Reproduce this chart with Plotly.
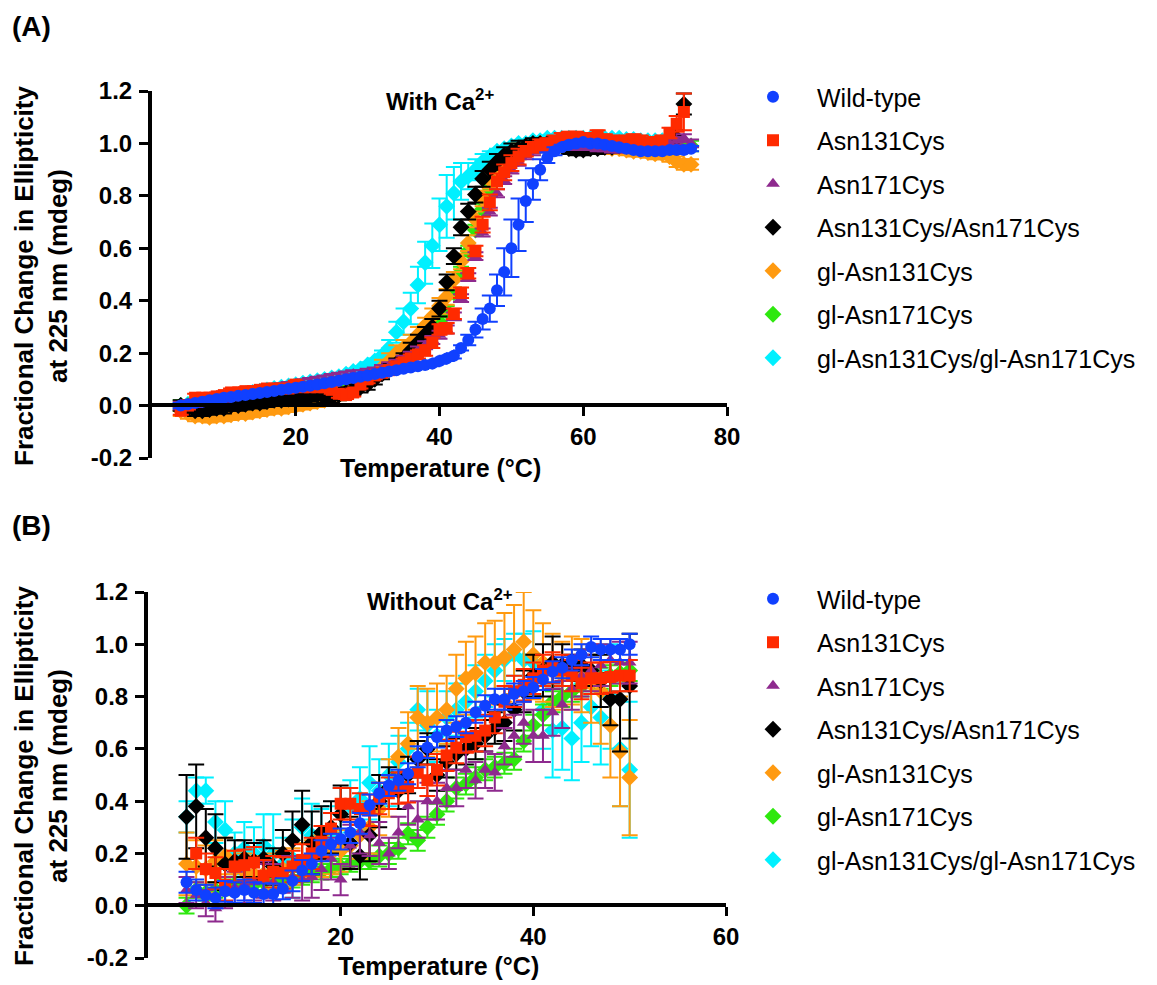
import plotly.graph_objects as go

# Temperaturen (°C)
temp_a = list(range(4, 76))
temp_b = list(range(4, 51))

names = ['Wild-type', 'Asn131Cys', 'Asn171Cys', 'Asn131Cys/Asn171Cys',
         'gl-Asn131Cys', 'gl-Asn171Cys', 'gl-Asn131Cys/gl-Asn171Cys']
colors = ['#1040FF', '#FF2A00', '#8E2A8E', '#000000', '#FF9A10', '#2EE80E', '#00F0FF']
symbols = ['circle', 'square', 'triangle-up', 'diamond', 'diamond', 'diamond', 'diamond']

# (A) mit Ca2+
wt_a = [0.00, 0.005, 0.01, 0.015, 0.02, 0.025, 0.03, 0.033, 0.037, 0.04,
        0.044, 0.048, 0.052, 0.056, 0.06, 0.064, 0.068, 0.072, 0.076, 0.08,
        0.085, 0.09, 0.095, 0.1, 0.105, 0.11, 0.115, 0.12, 0.125, 0.13,
        0.135, 0.14, 0.145, 0.15, 0.155, 0.16, 0.17, 0.18, 0.19, 0.22,
        0.25, 0.29, 0.33, 0.37, 0.44, 0.51, 0.6, 0.69, 0.78, 0.845,
        0.9, 0.945, 0.97, 0.985, 0.995, 1.0, 1.005, 1.0, 1.0, 0.995,
        0.99, 0.985, 0.98, 0.975, 0.97, 0.97, 0.97, 0.97, 0.975, 0.975,
        0.975, 0.98]
wt_a_err = [0.01] * 40 + [0.02, 0.03, 0.04, 0.05, 0.06, 0.09, 0.11, 0.1, 0.08, 0.06,
            0.04, 0.02, 0.015] + [0.01] * 19
n131_a = [-0.02, 0.0, 0.03, 0.03, 0.03, 0.035, 0.04, 0.05, 0.05, 0.055,
          0.055, 0.06, 0.065, 0.065, 0.065, 0.065, 0.08, 0.07, 0.07, 0.07,
          0.07, 0.06, 0.045, 0.04, 0.05, 0.08, 0.1, 0.115, 0.125, 0.135,
          0.15, 0.165, 0.18, 0.195, 0.21, 0.24, 0.29, 0.295, 0.35, 0.43,
          0.505, 0.59, 0.69, 0.775, 0.855, 0.89, 0.925, 0.95, 0.97, 0.985,
          0.995, 1.0, 1.01, 1.02, 1.025, 1.025, 1.02, 1.02, 1.03, 1.015,
          1.01, 1.005, 1.01, 1.015, 1.01, 1.0, 1.005, 1.01, 1.04, 1.075,
          1.12, None]
n131_a_err = [0.015] * 34 + [0.02] * 8 + [0.03] * 6 + [0.02] * 21 + [0.03, 0.07, 0.0]
n171_a = [0.0, 0.005, 0.01, 0.015, 0.02, 0.025, 0.03, 0.035, 0.04, 0.045,
          0.05, 0.055, 0.06, 0.065, 0.07, 0.075, 0.08, 0.085, 0.09, 0.095,
          0.1, 0.105, 0.11, 0.115, 0.12, 0.12, 0.125, 0.13, 0.14, 0.15,
          0.16, 0.175, 0.19, 0.21, 0.23, 0.25, 0.27, 0.29, 0.34, 0.41,
          0.49, 0.57, 0.66, 0.74, 0.81, 0.86, 0.9, 0.93, 0.955, 0.97,
          0.98, 0.985, 0.99, 0.995, 0.995, 0.99, 0.99, 0.99, 0.985, 0.985,
          0.98, 0.98, 0.98, 0.98, 0.98, 0.98, 0.985, 0.99, 1.0, 1.01,
          1.02, 1.0]
n171_a_err = [0.015] * 72
dbl_a = [0.0, -0.01, -0.02, -0.02, -0.015, -0.01, -0.01, 0.0, 0.0, 0.005,
         0.01, 0.01, 0.015, 0.02, 0.02, 0.025, 0.03, 0.03, 0.035, 0.04,
         0.03, 0.03, 0.04, 0.05, 0.06, 0.07, 0.08, 0.1, 0.12, 0.14,
         0.16, 0.18, 0.21, 0.24, 0.27, 0.3, 0.37, 0.47, 0.57, 0.68,
         0.74, 0.805, 0.865, 0.9, 0.93, 0.955, 0.97, 0.98, 0.99, 1.0,
         1.0, 1.0, 1.0, 0.99, 0.98, 0.975, 0.975, 0.98, 0.98, 0.985,
         0.985, 0.99, 0.99, 0.99, 0.99, 0.99, 0.99, 0.99, 1.0, 1.02,
         1.15, None]
dbl_a_err = [0.02] * 32 + [0.03] * 16 + [0.02] * 20 + [0.02, 0.03, 0.04, 0.0]
gl131_a = [-0.02, -0.03, -0.04, -0.04, -0.045, -0.04, -0.04, -0.035, -0.03, -0.03,
           -0.025, -0.02, -0.015, -0.01, -0.01, -0.005, 0.0, 0.005, 0.01, 0.015,
           0.02, 0.03, 0.04, 0.05, 0.065, 0.08, 0.1, 0.12, 0.145, 0.17,
           0.2, 0.22, 0.24, 0.27, 0.305, 0.34, 0.38, 0.415, 0.48, 0.55,
           0.62, 0.71, 0.79, 0.86, 0.9, 0.93, 0.95, 0.97, 0.98, 0.99,
           1.0, 1.0, 1.0, 1.0, 1.0, 1.0, 0.995, 0.99, 0.99, 0.985,
           0.98, 0.98, 0.975, 0.97, 0.97, 0.965, 0.96, 0.96, 0.95, 0.93,
           0.92, 0.92]
gl131_a_err = [0.02] * 28 + [0.03] * 20 + [0.02] * 24
gl171_a = [0.0, 0.0, 0.005, 0.01, 0.01, 0.015, 0.02, 0.02, 0.025, 0.03,
           0.03, 0.035, 0.04, 0.04, 0.045, 0.05, 0.05, 0.055, 0.06, 0.065,
           0.07, 0.075, 0.08, 0.085, 0.09, 0.1, 0.11, 0.12, 0.135, 0.15,
           0.165, 0.18, 0.2, 0.22, 0.25, 0.28, 0.32, 0.36, 0.43, 0.51,
           0.59, 0.67, 0.75, 0.82, 0.875, 0.915, 0.94, 0.96, 0.975, 0.985,
           0.99, 0.995, 1.0, 1.0, 1.0, 1.0, 1.0, 0.995, 0.995, 0.99,
           0.99, 0.99, 0.99, 0.985, 0.985, 0.985, 0.985, 0.985, 0.99, 0.99,
           0.99, 0.99]
gl171_a_err = [0.02] * 72
glb_a = [0.0, 0.005, 0.01, 0.015, 0.02, 0.025, 0.03, 0.035, 0.04, 0.045,
         0.05, 0.055, 0.06, 0.065, 0.07, 0.075, 0.08, 0.085, 0.09, 0.095,
         0.1, 0.105, 0.11, 0.12, 0.13, 0.14, 0.155, 0.17, 0.19, 0.22,
         0.28, 0.32, 0.37, 0.46, 0.545, 0.61, 0.69, 0.76, 0.81, 0.855,
         0.875, 0.9, 0.93, 0.95, 0.97, 0.98, 0.99, 1.0, 1.0, 1.01,
         1.01, 1.02, 1.02, 1.02, 1.02, 1.02, 1.02, 1.02, 1.02, 1.02,
         1.02, 1.02, 1.015, 1.015, 1.01, 1.01, 1.01, 1.01, 1.01, 1.01,
         1.0, None]
glb_a_err = [0.01] * 28 + [0.02, 0.03, 0.04, 0.05, 0.06, 0.07, 0.08, 0.085, 0.1, 0.12,
             0.1, 0.07, 0.05, 0.04, 0.03, 0.02] + [0.01] * 28

# (B) ohne Ca2+
wt_b = [0.09, 0.06, 0.04, 0.03, 0.055, 0.05, 0.06, 0.05, 0.045, 0.045,
        0.065, 0.095, 0.135, 0.16, 0.21, 0.235, 0.255, 0.28, 0.315, 0.385,
        0.43, 0.46, 0.48, 0.505, 0.57, 0.605, 0.645, 0.67, 0.685, 0.7,
        0.74, 0.765, 0.79, 0.79, 0.81, 0.82, 0.835, 0.865, 0.895, 0.91,
        0.94, 0.96, 0.99, 0.98, 0.98, 0.98, 1.0]
wt_b_err = [0.04] * 47
n131_b = [None, 0.2, 0.14, 0.125, 0.08, 0.15, 0.155, 0.165, 0.115, 0.13,
          0.125, 0.15, 0.175, 0.2, 0.245, 0.295, 0.39, 0.39, 0.37, 0.365,
          0.41, 0.43, 0.45, 0.455, 0.51, 0.48, 0.52, 0.575, 0.605, 0.645,
          0.65, 0.67, 0.72, 0.78, 0.82, 0.845, 0.87, 0.9, 0.91, 0.9,
          0.88, 0.85, 0.87, 0.87, 0.875, 0.88, 0.88]
n131_b_err = [0.06] * 47
n171_b = [0.06, 0.04, 0.01, -0.01, 0.05, 0.07, 0.08, 0.09, 0.1, 0.09,
          0.12, 0.11, 0.1, 0.11, 0.14, 0.18, 0.1, 0.23, 0.28, 0.27,
          0.24, 0.2, 0.28, 0.38, 0.33, 0.4, 0.4, 0.45, 0.45, 0.52,
          0.48, 0.52, 0.51, 0.61, 0.65, 0.7, 0.65, 0.65, 0.74, 0.77,
          0.83, 0.88, 0.9, 0.92, 0.94, 0.93, 0.93]
n171_b_err = [0.05, 0.05, 0.05, 0.05, 0.06, 0.06, 0.07, 0.07, 0.07, 0.07,
              0.07, 0.08, 0.08, 0.08, 0.08, 0.08, 0.06, 0.08, 0.08, 0.08,
              0.08, 0.06, 0.06, 0.07, 0.07, 0.07, 0.07, 0.07, 0.07, 0.07,
              0.07, 0.07, 0.07, 0.07, 0.08, 0.08, 0.1, 0.1, 0.09, 0.09,
              0.08, 0.08, 0.08, 0.08, 0.08, 0.08, 0.08]
dbl_b = [0.34, 0.38, 0.26, 0.22, 0.16, 0.17, 0.18, 0.17, 0.18, 0.15,
         0.2, 0.25, 0.31, 0.24, 0.28, 0.3, 0.35, 0.24, 0.19, 0.27,
         0.4, 0.45, 0.44, 0.5, 0.56, 0.6, 0.5, 0.55, 0.58, 0.6,
         0.62, 0.65, 0.68, 0.7, 0.75, 0.82, 0.88, 0.9, 0.93, 0.92,
         0.9, 0.92, 0.9, 0.86, 0.79, 0.79, 0.84]
dbl_b_err = [0.16, 0.16, 0.11, 0.13, 0.1, 0.08, 0.07, 0.07, 0.07, 0.07,
             0.09, 0.11, 0.13, 0.12, 0.1, 0.1, 0.11, 0.1, 0.09, 0.1,
             0.1, 0.08, 0.07, 0.07, 0.07, 0.06, 0.06, 0.06, 0.06, 0.06,
             0.06, 0.06, 0.06, 0.07, 0.08, 0.08, 0.08, 0.1, 0.1, 0.08,
             0.06, 0.06, 0.06, 0.1, 0.1, 0.2, 0.2]
gl131_b = [0.16, 0.15, 0.14, 0.17, 0.19, 0.14, 0.13, 0.12, 0.12, 0.13,
           0.14, 0.15, 0.17, 0.18, 0.19, 0.2, 0.21, 0.23, 0.27, 0.3,
           0.37, 0.45, 0.57, 0.62, 0.72, 0.7, 0.72, 0.75, 0.83, 0.87,
           0.89, 0.93, 0.93, 0.95, 0.98, 1.01, 0.96, 0.93, 0.9, 0.88,
           0.9, 0.88, 0.85, 0.82, 0.69, 0.59, 0.49]
gl131_b_err = [0.12, 0.1, 0.09, 0.08, 0.07, 0.07, 0.07, 0.07, 0.07, 0.07,
               0.07, 0.07, 0.07, 0.07, 0.08, 0.08, 0.08, 0.09, 0.09, 0.1,
               0.1, 0.11, 0.11, 0.12, 0.12, 0.13, 0.13, 0.13, 0.13, 0.14,
               0.14, 0.15, 0.16, 0.17, 0.17, 0.19, 0.17, 0.15, 0.14, 0.13,
               0.13, 0.14, 0.15, 0.2, 0.2, 0.21, 0.22]
gl171_b = [0.0, 0.06, 0.05, 0.06, 0.07, 0.08, 0.08, 0.08, 0.09, 0.1,
           0.1, 0.1, 0.11, 0.12, 0.13, 0.14, 0.15, 0.16, 0.17, 0.17,
           0.19, 0.2, 0.22, 0.275, 0.25, 0.3, 0.35, 0.4, 0.45, 0.465,
           0.49, 0.52, 0.53, 0.545, 0.56, 0.63, 0.69, 0.73, 0.78, 0.8,
           0.82, 0.84, 0.86, 0.87, 0.88, 0.89, 0.9]
gl171_b_err = [0.03] * 20 + [0.04] * 27
glb_b = [0.34, 0.44, 0.44, 0.32, 0.29, 0.2, 0.22, 0.2, 0.23, 0.2,
         0.16, 0.18, 0.3, 0.27, 0.25, 0.28, 0.35, 0.38, 0.41, 0.47,
         0.44, 0.5, 0.55, 0.6, 0.75, 0.69, 0.65, 0.72, 0.75, 0.78,
         0.82, 0.86, 0.9, 0.94, 0.96, 0.94, 0.93, 0.75, 0.67, 0.68,
         0.64, 0.7, 0.76, 0.72, 0.8, 0.6, 0.52]
glb_b_err = [0.06, 0.05, 0.05, 0.08, 0.11, 0.08, 0.1, 0.1, 0.12, 0.15,
             0.1, 0.15, 0.11, 0.12, 0.12, 0.1, 0.1, 0.1, 0.12, 0.14,
             0.12, 0.12, 0.1, 0.1, 0.08, 0.13, 0.1, 0.1, 0.1, 0.1,
             0.1, 0.1, 0.1, 0.08, 0.08, 0.1, 0.12, 0.15, 0.18, 0.16,
             0.16, 0.15, 0.15, 0.18, 0.2, 0.22, 0.26]

panel_a = [(wt_a, wt_a_err), (n131_a, n131_a_err), (n171_a, n171_a_err), (dbl_a, dbl_a_err),
           (gl131_a, gl131_a_err), (gl171_a, gl171_a_err), (glb_a, glb_a_err)]
panel_b = [(wt_b, wt_b_err), (n131_b, n131_b_err), (n171_b, n171_b_err), (dbl_b, dbl_b_err),
           (gl131_b, gl131_b_err), (gl171_b, gl171_b_err), (glb_b, glb_b_err)]

# die Seite hat 8 px Rand, daher etwas kleiner
OFF = 8
W, H = 1157 - OFF, 985 - OFF
FONT = 'Arial, Liberation Sans, sans-serif'

fig = go.Figure()

# in umgekehrter Reihenfolge zeichnen, damit Wild-type oben liegt
for temps, panel, xa, ya, leg in [(temp_a, panel_a, 'x', 'y', 'legend'),
                                  (temp_b, panel_b, 'x2', 'y2', 'legend2')]:
    for i in reversed(range(len(names))):
        vals, errs = panel[i]
        size = 12 if symbols[i] != 'diamond' else 13
        fig.add_trace(go.Scatter(
            x=temps, y=vals, mode='markers', name=names[i],
            xaxis=xa, yaxis=ya, legend=leg, legendgroup=leg + str(i), legendrank=i + 1,
            marker=dict(symbol=symbols[i], color=colors[i], size=size, line=dict(width=0)),
            error_y=dict(type='data', array=errs, color=colors[i], thickness=2, width=8),
            cliponaxis=False
        ))


# Pixel im Bildschirmfoto -> Papierkoordinaten
def px_x(p):
    return (p - OFF) / W


def px_y(p):
    return 1 - (p - OFF) / H


ytick_vals = [-0.2, 0.0, 0.2, 0.4, 0.6, 0.8, 1.0, 1.2]
ytick_text = ['-0.2', '0.0', '0.2', '0.4', '0.6', '0.8', '1.0', '1.2']
bold = dict(family=FONT, size=24, color='black', weight='bold')

yax = dict(range=[-0.2, 1.2], tickvals=ytick_vals, ticktext=ytick_text,
           showline=True, linewidth=4, linecolor='black', ticks='outside',
           ticklen=9, tickwidth=3, tickcolor='black', showgrid=False, zeroline=False,
           tickfont=bold, ticklabelstandoff=2, automargin=False)
xax = dict(showline=True, linewidth=4, linecolor='black', ticks='outside',
           ticklen=9, tickwidth=3, tickcolor='black', showgrid=False, zeroline=False,
           anchor='free', tickfont=bold, ticklabelstandoff=0, automargin=False)

legend_style = dict(xanchor='left', yanchor='top', traceorder='grouped',
                    font=dict(family=FONT, size=25, color='black'), tracegroupgap=8,
                    itemwidth=78, bgcolor='rgba(0,0,0,0)')

fig.update_layout(
    width=W, height=H,
    margin=dict(l=0, r=0, t=0, b=0, autoexpand=False),
    plot_bgcolor='white', paper_bgcolor='white',
    xaxis=dict(xax, domain=[px_x(152), px_x(727)], range=[0, 80], tickvals=[20, 40, 60, 80],
               position=px_y(405)),
    yaxis=dict(yax, domain=[px_y(458), px_y(91)], anchor='x'),
    xaxis2=dict(xax, domain=[px_x(148), px_x(726)], range=[0, 60], tickvals=[20, 40, 60],
                position=px_y(905)),
    yaxis2=dict(yax, domain=[px_y(958), px_y(592)], anchor='x2'),
    legend=dict(legend_style, x=px_x(729), y=px_y(74)),
    legend2=dict(legend_style, x=px_x(729), y=px_y(576)),
)

ytitle = 'Fractional Change in Ellipticity<br>at 225 nm (mdeg)'
for label, y_lab, title, y_title, y_axis, x_mid, y_xt in [
        ('(A)', 27, 'With Ca<sup>2+</sup>', 100, 276, 440, 468),
        ('(B)', 525, 'Without Ca<sup>2+</sup>', 600, 776, 438, 966)]:
    fig.add_annotation(text=label, x=px_x(10), y=px_y(y_lab), xref='paper', yref='paper',
                       xanchor='left', yanchor='middle', showarrow=False,
                       font=dict(family=FONT, size=28, color='black', weight='bold'))
    fig.add_annotation(text=title, x=px_x(440), y=px_y(y_title), xref='paper', yref='paper',
                       xanchor='center', yanchor='middle', showarrow=False,
                       font=dict(family=FONT, size=24, color='black', weight='bold'))
    fig.add_annotation(text='Temperature (°C)', x=px_x(x_mid), y=px_y(y_xt),
                       xref='paper', yref='paper', xanchor='center', yanchor='middle',
                       showarrow=False, font=dict(family=FONT, size=25, color='black', weight='bold'))
    fig.add_annotation(text=ytitle, x=px_x(41), y=px_y(y_axis), xref='paper', yref='paper',
                       xanchor='center', yanchor='middle', showarrow=False, textangle=-90,
                       font=dict(family=FONT, size=26, color='black', weight='bold'))

fig.write_html("out.html")
